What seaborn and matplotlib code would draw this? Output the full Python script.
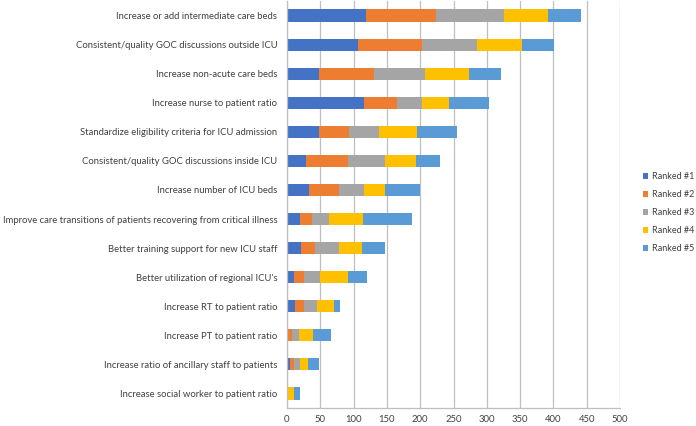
import matplotlib
matplotlib.use("Agg")
import matplotlib.pyplot as plt
from matplotlib.patches import Patch
import numpy as np
import pandas as pd
import seaborn as sns

categories = [
    "Increase or add intermediate care beds",
    "Consistent/quality GOC discussions outside ICU",
    "Increase non-acute care beds",
    "Increase nurse to patient ratio",
    "Standardize eligibility criteria for ICU admission",
    "Consistent/quality GOC discussions inside ICU",
    "Increase number of ICU beds",
    "Improve care transitions of patients recovering from critical illness",
    "Better training support for new ICU staff",
    "Better utilization of regional ICU's",
    "Increase RT to patient ratio",
    "Increase PT to patient ratio",
    "Increase ratio of ancillary staff to patients",
    "Increase social worker to patient ratio",
]
ranked_1 = [118, 107, 48, 115, 48, 28, 33, 20, 21, 10, 12, 0, 4, 0]
ranked_2 = [105, 95, 82, 50, 45, 63, 45, 18, 21, 16, 14, 8, 6, 0]
ranked_3 = [103, 84, 77, 38, 45, 56, 38, 25, 36, 24, 19, 10, 10, 0]
ranked_4 = [66, 67, 66, 40, 57, 47, 31, 51, 34, 41, 25, 21, 11, 10]
ranked_5 = [50, 48, 49, 60, 61, 36, 52, 74, 35, 29, 10, 27, 17, 10]
series_names = ["Ranked #1", "Ranked #2", "Ranked #3", "Ranked #4", "Ranked #5"]
colors = ["#4472C4", "#ED7D31", "#A5A5A5", "#FFC000", "#5B9BD5"]
x_ticks = [0, 50, 100, 150, 200, 250, 300, 350, 400, 450, 500]

df = pd.DataFrame({"category": categories,
                   "Ranked #1": ranked_1, "Ranked #2": ranked_2,
                   "Ranked #3": ranked_3, "Ranked #4": ranked_4,
                   "Ranked #5": ranked_5})
cum = df[series_names].cumsum(axis=1)

sns.set_style("white")
plt.rcParams["font.family"] = ["Lato", "DejaVu Sans"]

fig = plt.figure(figsize=(6.96, 4.26), dpi=100)
ax = fig.add_axes([287 / 696, 18 / 426, 333 / 696, 407 / 426])

for name, col in reversed(list(zip(series_names, colors))):
    sns.barplot(x=cum[name].values, y=df["category"], color=col, orient="h",
                width=0.42, ax=ax, saturation=1, linewidth=0)

ax.set_xlim(0, 500)
ax.set_ylim(13.5, -0.5)
ax.set_xticks(x_ticks)
ax.set_xticklabels([str(t) for t in x_ticks], fontsize=6.8, color="#404040")
ax.set_xlabel("")
ax.set_ylabel("")
ax.tick_params(axis="y", labelsize=6.8, labelcolor="#404040", length=0, pad=7)
ax.tick_params(axis="x", length=2, color="#BFBFBF", pad=3)
# category separator ticks on the y axis
ax.set_yticks(np.arange(-0.5, 14.0, 1.0), minor=True)
ax.tick_params(axis="y", which="minor", length=4, width=0.9, color="#BFBFBF", direction="out")

ax.grid(axis="x", color="#BFBFBF", linewidth=0.9)
ax.set_axisbelow(True)
for s in ["top", "right"]:
    ax.spines[s].set_visible(False)
for s in ["left", "bottom"]:
    ax.spines[s].set_color("#BFBFBF")
    ax.spines[s].set_linewidth(0.9)

handles = [Patch(facecolor=c, edgecolor="none") for c in colors]
fig.legend(handles, series_names, loc="upper left", bbox_to_anchor=(643 / 696, 1 - 172 / 426),
           frameon=False, fontsize=6.5, handlelength=0.6, handleheight=0.6,
           handletextpad=0.45, labelspacing=1.0, borderpad=0, borderaxespad=0,
           labelcolor="#404040")

fig.savefig("out.png", dpi=100)
